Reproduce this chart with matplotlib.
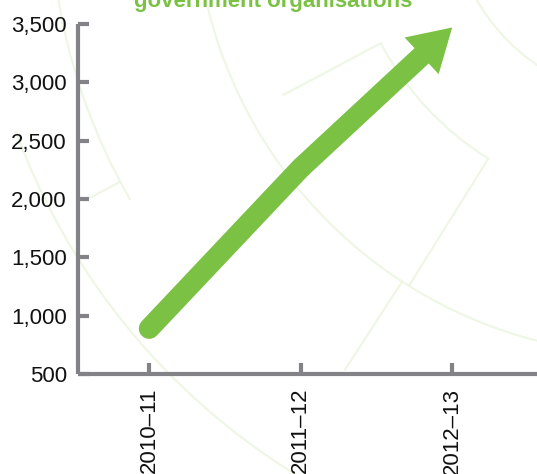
import numpy as np
import matplotlib
matplotlib.use("Agg")
import matplotlib.pyplot as plt
from matplotlib.patches import Arc

plt.rcParams['font.family'] = ['Liberation Sans', 'DejaVu Sans']

years = ['2010\u201311', '2011\u201312', '2012\u201313']
values = [890, 2265, 3470]
yticks = [500, 1000, 1500, 2000, 2500, 3000, 3500]
title = 'government organisations'

green = '#7bc143'
grey = '#838387'
pale = '#eef6e4'

fig = plt.figure(figsize=(5.37, 4.74), dpi=100)
fig.patch.set_facecolor('white')

# faint decorative arcs in the background (pixel coords, y down)
bg = fig.add_axes([0, 0, 1, 1], zorder=0)
bg.set_xlim(0, 537)
bg.set_ylim(474, 0)
bg.axis('off')
cx, cy = 650, -100
for r, t1, t2 in [(200, 118, 152), (305, 122, 152), (455, 100, 170),
                  (600, 150, 172), (675, 110, 160)]:
    bg.add_patch(Arc((cx, cy), 2 * r, 2 * r, theta1=t1, theta2=t2,
                     color=pale, lw=1.5))
for ang, r0, r1 in [(152, 305, 415), (122, 305, 455), (123, 455, 560),
                    (152, 600, 640)]:
    a = np.deg2rad(ang)
    bg.plot([cx + r0 * np.cos(a), cx + r1 * np.cos(a)],
            [cy + r0 * np.sin(a), cy + r1 * np.sin(a)], color=pale, lw=1.5)

ax = fig.add_axes([0.1453, 0.211, 0.8547, 0.7384], zorder=1)
ax.patch.set_alpha(0)
x = np.arange(len(years))

# shaft up to the middle year, then arrow to the last
ax.plot(x[:2], values[:2], color=green, lw=15, solid_capstyle='round',
        clip_on=False, zorder=3)
ax.annotate('', xy=(x[2], values[2]), xytext=(x[1], values[1]),
            arrowprops=dict(arrowstyle='simple,head_length=1.5,head_width=1.8,tail_width=0.75',
                            mutation_scale=20, color=green, lw=0,
                            shrinkA=0, shrinkB=0),
            annotation_clip=False, zorder=3)

ax.set_xlim(-0.47, 2.56)
ax.set_ylim(500, 3500)
ax.set_xticks(x)
ax.set_xticklabels(years, rotation=90, va='top', ha='center')
ax.set_yticks(yticks)
ax.set_yticklabels(['{:,}'.format(v) for v in yticks])

for s in ['top', 'right']:
    ax.spines[s].set_visible(False)
for s in ['left', 'bottom']:
    ax.spines[s].set_color(grey)
    ax.spines[s].set_linewidth(3)
    ax.spines[s].set_capstyle('butt')
ax.tick_params(axis='both', direction='in', length=8, width=3, color=grey,
               labelsize=16, labelcolor='#111111')
ax.tick_params(axis='y', pad=8)
ax.tick_params(axis='x', pad=10)

fig.text(0.508, 1 - 7 / 474, title, color=green, fontsize=16,
         fontweight='bold', ha='center', va='baseline')

fig.savefig('out.png', dpi=100)
